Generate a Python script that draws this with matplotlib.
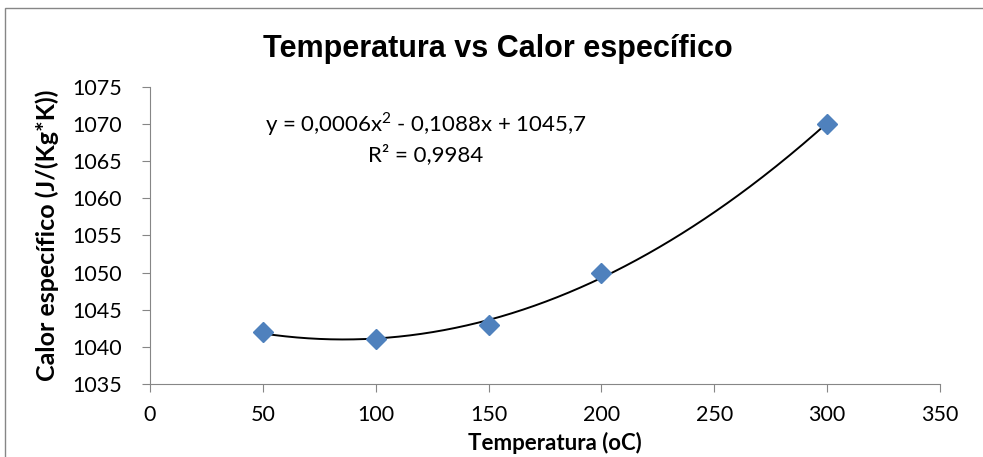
import numpy as np
import matplotlib.pyplot as plt
from matplotlib.patches import Rectangle

# data
temperatura = [50, 100, 150, 200, 300]
calor_especifico = [1042, 1041, 1043, 1050, 1070]
ecuacion = "y = 0,0006x$^2$ - 0,1088x + 1045,7\nR² = 0,9984"

plt.rcParams['font.family'] = ['Lato', 'DejaVu Sans']
plt.rcParams['mathtext.fontset'] = 'custom'
plt.rcParams['mathtext.rm'] = 'Lato'

fig = plt.figure(figsize=(9.83, 4.57), dpi=100)
ax = fig.add_axes([150/983, 1 - 384/457, 790/983, 297/457])

# outer chart-area border
fig.patches.append(Rectangle((5/983, -0.1), 1.2, 1.1 - 8/457, transform=fig.transFigure,
                             fill=False, edgecolor='#868686', linewidth=1.0))

# polynomial trendline (order 2)
coef = np.polyfit(temperatura, calor_especifico, 2)
xs = np.linspace(min(temperatura), max(temperatura), 300)
ax.plot(xs, np.polyval(coef, xs), color='black', linewidth=1.4, zorder=2)

ax.plot(temperatura, calor_especifico, linestyle='none', marker='D', markersize=10,
        color='#4F81BD', markeredgecolor='#4F81BD', zorder=3)

ax.set_xlim(0, 350)
ax.set_ylim(1035, 1075)
ax.set_xticks(np.arange(0, 351, 50))
ax.set_yticks(np.arange(1035, 1076, 5))

for s in ['top', 'right']:
    ax.spines[s].set_visible(False)
for s in ['left', 'bottom']:
    ax.spines[s].set_color('#868686')
ax.tick_params(direction='out', length=6, color='#868686', labelsize=15.5)
ax.tick_params(axis='y', pad=14)
ax.tick_params(axis='x', pad=9)

ax.text(122, 1068.2, ecuacion, ha='center', va='center', fontsize=16, linespacing=1.4)

fig.text(498/983, 1 - 57/457, 'Temperatura vs Calor específico', ha='center', va='baseline',
         fontsize=22, fontweight='bold', family=['Liberation Sans', 'DejaVu Sans'])
fig.text(555/983, 1 - 450/457, 'Temperatura (oC)', ha='center', va='baseline',
         fontsize=16, fontweight='bold')
fig.text(47/983, 1 - 235/457, 'Calor específico (J/(Kg*K))', ha='center', va='center',
         rotation=90, fontsize=18, fontweight='bold')

fig.savefig('out.png', dpi=100)
